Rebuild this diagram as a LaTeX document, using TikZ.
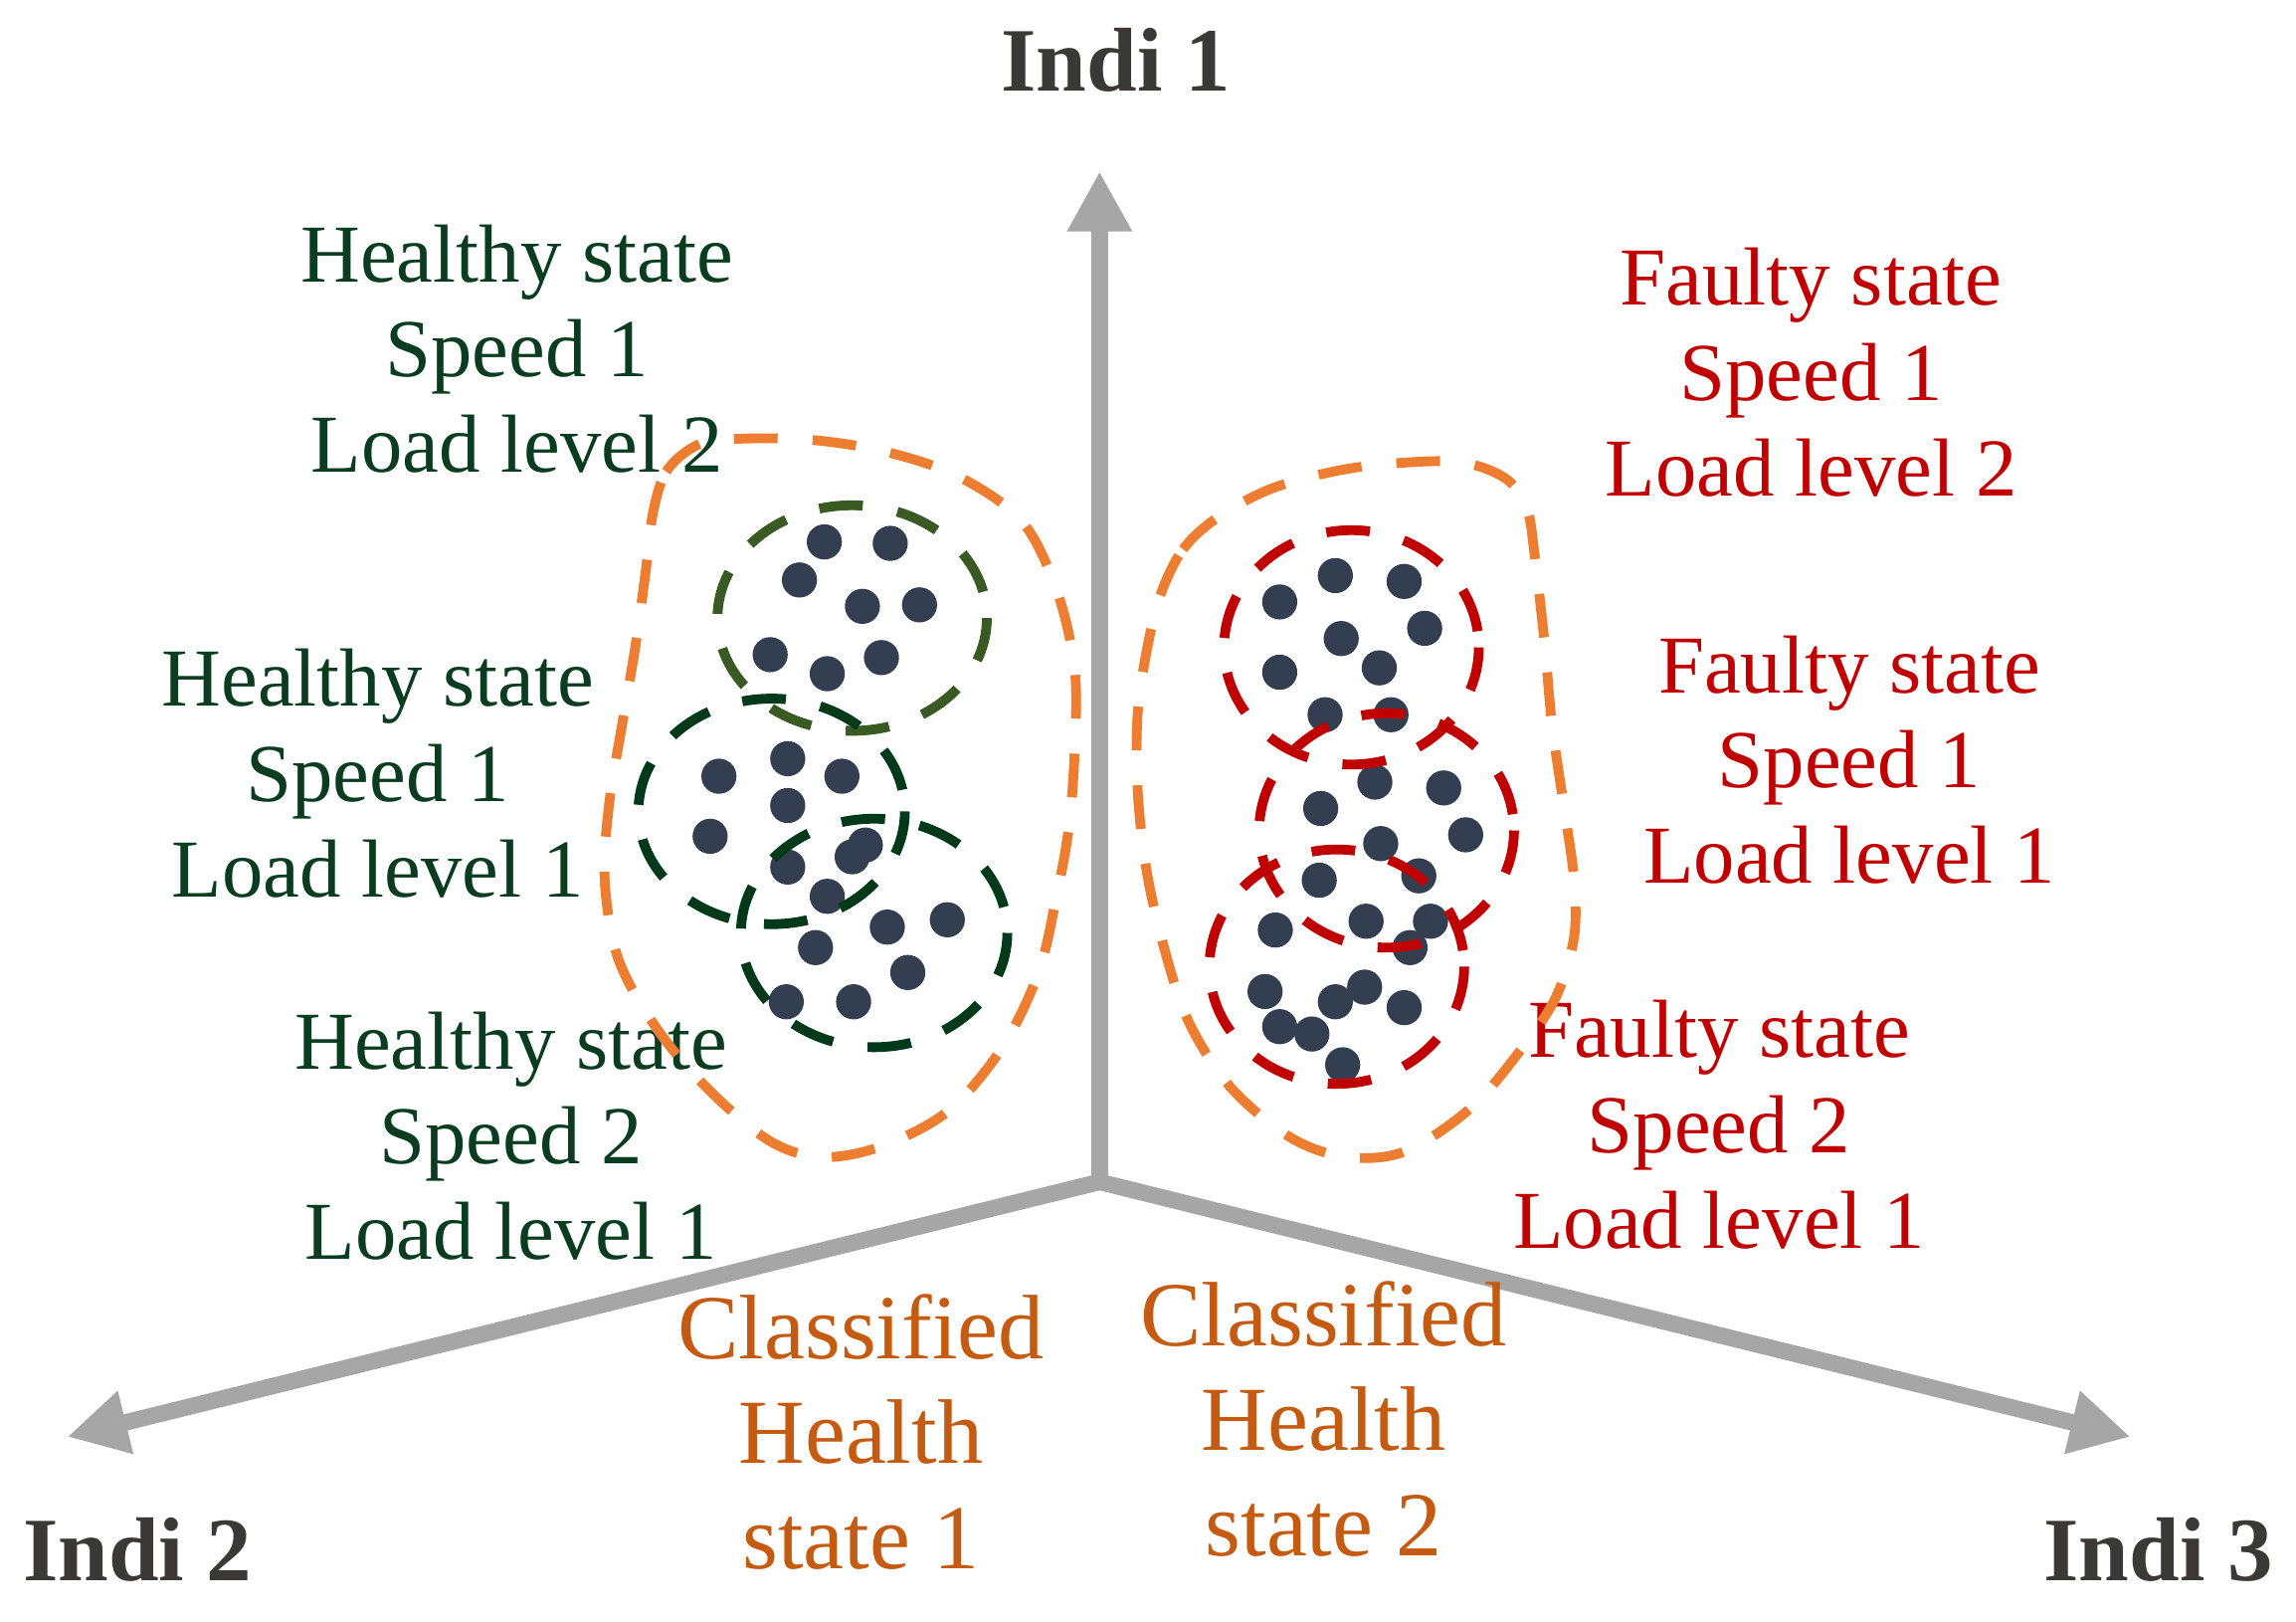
\documentclass[tikz,border=0pt]{standalone}
\usepackage{fontspec}
\setmainfont{Liberation Serif}
\usepackage{tikz}
\usetikzlibrary{arrows.meta}

\definecolor{axisgray}{HTML}{A6A6A6}
\definecolor{indigray}{HTML}{3B3838}
\definecolor{healthgreen}{HTML}{0A3D1F}
\definecolor{olivegreen}{HTML}{3A5A24}
\definecolor{darkgreen}{HTML}{003A1A}
\definecolor{faultred}{HTML}{C00000}
\definecolor{bloborange}{HTML}{ED7D31}
\definecolor{classorange}{HTML}{C55A11}
\definecolor{dotblue}{HTML}{333F50}

\begin{document}
\begin{tikzpicture}[x=0.1mm,y=-0.1mm,
  axis/.style={line width=3.2pt,axisgray,>={Triangle[length=4.1mm,width=4.15mm]}},
  boundary/.style={line width=1.9pt,dash pattern=on 8.5pt off 6.8pt},
  statelbl/.style={align=center,anchor=base,inner sep=0pt,font=\fontsize{16}{18.55}\selectfont},
  classlbl/.style={align=center,anchor=base,inner sep=0pt,text=classorange,font=\fontsize{17.8}{20.4}\selectfont},
  indilbl/.style={anchor=base,inner sep=0pt,text=indigray,font=\fontsize{17.6}{20}\selectfont\bfseries}]
\fill[white] (0,0) rectangle (1568.1,1107.4);

% axes
\coordinate (O) at (751,807);
\coordinate (ax1) at (751,117);
\coordinate (ax2) at (46,981);
\coordinate (ax3) at (1455,981);
\draw[axis,<->] (ax2) -- (O) -- (ax3);
\draw[axis,->] (O) -- (ax1);
\node[indilbl] (indi1) at (762,62) {Indi 1};
\node[indilbl] (indi2) at (94,1079) {Indi 2};
\node[indilbl] (indi3) at (1474,1079) {Indi 3};

% state labels (base = last line)
\node[statelbl,text=healthgreen] (g1) at (353,322.7) {Healthy state\\Speed 1\\Load level 2};
\node[statelbl,text=healthgreen] (g2) at (258,612.2) {Healthy state\\Speed 1\\Load level 1};
\node[statelbl,text=healthgreen] (g3) at (349,860.1) {Healthy state\\Speed 2\\Load level 1};
\node[statelbl,text=faultred] (r1) at (1237,338.8) {Faulty state\\Speed 1\\Load level 2};
\node[statelbl,text=faultred] (r2) at (1263,603.3) {Faulty state\\Speed 1\\Load level 1};
\node[statelbl,text=faultred] (r3) at (1174,852.3) {Faulty state\\Speed 2\\Load level 1};
\node[classlbl] (c1) at (588,1071) {Classified\\Health\\state 1};
\node[classlbl] (c2) at (904,1062) {Classified\\Health\\state 2};

% samples
\foreach \p in {(563,370),(608,371),(546,396),(589,414),(628,413),(526,447),(565,460),(602,449),
  (491,530),(538,518),(575,530),(538,550),(485,571),(538,592),(582,585),(591,577),(565,612),
  (606,633),(647,628),(557,647),(620,664),(537,684),(583,684)}
  \fill[dotblue] \p circle (12);
\foreach \p in {(912,393),(959,397),(874,411),(973,429),(916,436),(874,459),(942,456),(905,488),(950,488),
  (939,534),(986,538),(902,552),(1001,570),(943,576),(969,598),(901,601),
  (871,635),(933,629),(977,629),(963,647),(864,677),(932,674),(912,684),(959,688),(874,701),(896,706),(917,727)}
  \fill[dotblue] \p circle (12);

% operating conditions
\draw[boundary,olivegreen] (582,422) ellipse [x radius=92,y radius=77];
\draw[boundary,darkgreen] (527,554) ellipse [x radius=91,y radius=77];
\draw[boundary,darkgreen] (597,637) ellipse [x radius=91,y radius=78];
\draw[boundary,faultred] (923,442) ellipse [x radius=87,y radius=80];
\draw[boundary,faultred] (947,567) ellipse [x radius=87,y radius=80];
\draw[boundary,faultred] (913,660) ellipse [x radius=87,y radius=80];

% classified health states
\draw[boundary,bloborange] plot[smooth cycle,tension=0.55] coordinates {
  (446,350) (455,322) (474,305) (496,300) (550,300) (603,308) (654,325) (698,356) (722,404)
  (734,457) (734,512) (730,565) (721,615) (709,665) (684,716) (647,759) (601,783) (560,790)
  (524,778) (481,741) (447,700) (422,654) (413,601) (416,549) (425,494) (434,441) (441,390)};
\draw[boundary,bloborange] plot[smooth cycle,tension=0.55] coordinates {
  (793,405) (808,375) (832,353) (870,333) (921,320) (975,315) (1005,317) (1030,328) (1043,348)
  (1048,378) (1055,440) (1060,495) (1068,550) (1075,600) (1075,640) (1063,680) (1040,715)
  (1005,756) (960,786) (920,790) (882,777) (841,743) (812,698) (795,647) (783,594) (777,540)
  (777,487) (784,440)};
\end{tikzpicture}
\end{document}
